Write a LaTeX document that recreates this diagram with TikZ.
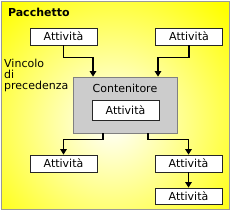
\documentclass[tikz,border=0pt]{standalone}
\usepackage{fontspec}
\setmainfont{DejaVu Sans}
\usetikzlibrary{arrows.meta}
\definecolor{pkgyellow}{RGB}{255,255,0}
\definecolor{contgray}{RGB}{204,204,204}
\tikzset{
  attbox/.style={draw=black!85,fill=white,line width=0.8pt,minimum width=67pt,
    minimum height=17pt,inner sep=0pt,font=\fontsize{11}{12}\selectfont},
  flow/.style={-{Triangle[width=6.5pt,length=5.5pt]},line width=1.3pt},
}
\begin{document}
\begin{tikzpicture}[x=1pt,y=-1pt]
\useasboundingbox (0,0) rectangle (232,212);
\fill[white] (0,0) rectangle (232,212);
\begin{scope}
\clip (1,1) rectangle (229.5,209.5);
\fill[pkgyellow] (1,1) rectangle (229.5,209.5);
\shade[inner color=white,outer color=pkgyellow] (112,122) circle (160);
\end{scope}
\draw[gray!80,line width=0.8pt] (1,1) rectangle (229.5,209.5);
\node[anchor=base west,font=\fontsize{11}{12}\selectfont\bfseries] (title) at (4.5,16) {Pacchetto};
\node[anchor=north west,align=left,inner sep=0pt,font=\fontsize{11}{11}\selectfont] (vinc) at (4,59) {Vincolo\\di\\precedenza};
% contenitore
\node[draw=gray,fill=contgray,line width=0.8pt,minimum width=104pt,minimum height=56pt,inner sep=0pt] (cont) at (125,105) {};
\node[below=7pt,font=\fontsize{11}{12}\selectfont,inner sep=0pt] (conttxt) at (cont.north) {Contenitore};
\node[attbox,minimum height=20pt] (inner) at (125.5,110) {Attività};
% attivita
\node[attbox] (a1) at (63.5,36.5) {Attività};
\node[attbox] (a2) at (189,36.5) {Attività};
\node[attbox] (b1) at (63.5,163.5) {Attività};
\node[attbox] (b2) at (188.5,163.5) {Attività};
\node[attbox,minimum height=16pt] (b3) at (188.5,196) {Attività};
% vincoli
\draw[flow] (a1.south) -- ++(0,12) -| ([xshift=-32pt]cont.north);
\draw[flow] (a2.south) -- ++(0,12) -| ([xshift=33pt]cont.north);
\draw[flow] ([xshift=-22pt]cont.south) -- ++(0,6) -| (b1.north);
\draw[flow] ([xshift=23pt]cont.south) -- ++(0,6) -| (b2.north);
\draw[flow] (b2) -- (b3);
\end{tikzpicture}
\end{document}
